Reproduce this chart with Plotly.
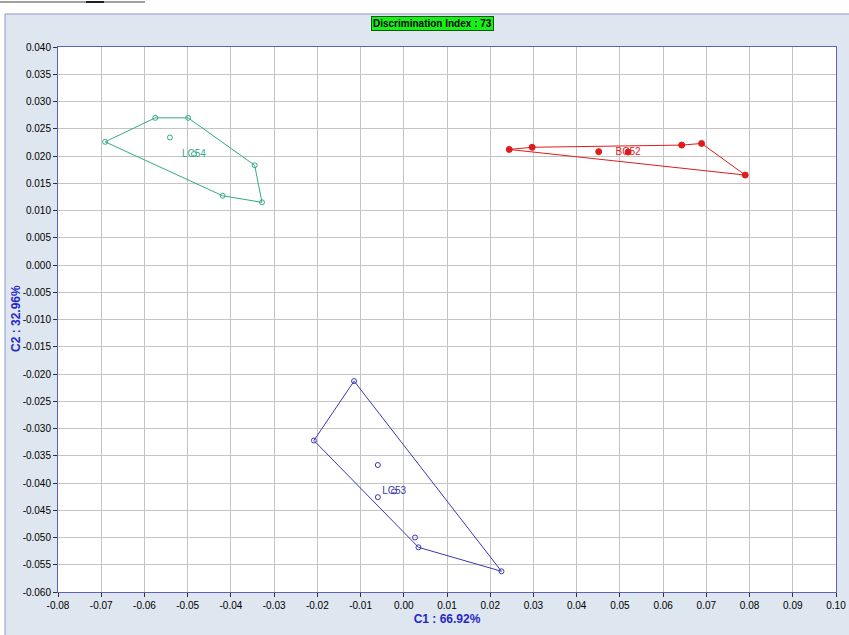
import plotly.graph_objects as go

# Canonical scores (C1, C2) for each group
groups = ["LC54", "BC52", "LC53"]

lc54_c1 = [-0.0691, -0.0575, -0.0499, -0.0345, -0.0328, -0.0419, -0.0541]
lc54_c2 = [0.0226, 0.0270, 0.0270, 0.0183, 0.0115, 0.0127, 0.0234]
lc54_outline = [0, 1, 2, 3, 4, 5, 0]

bc52_c1 = [0.0244, 0.0297, 0.0451, 0.0643, 0.0689, 0.0790]
bc52_c2 = [0.0212, 0.0216, 0.0208, 0.0220, 0.0223, 0.0165]
bc52_outline = [0, 1, 3, 4, 5, 0]

lc53_c1 = [-0.0115, -0.0208, -0.0060, -0.0060, 0.0026, 0.0034, 0.0226]
lc53_c2 = [-0.0213, -0.0322, -0.0367, -0.0426, -0.0500, -0.0518, -0.0562]
lc53_outline = [0, 6, 5, 1, 0]

x_ticks = [-0.08, -0.07, -0.06, -0.05, -0.04, -0.03, -0.02, -0.01, 0.00,
           0.01, 0.02, 0.03, 0.04, 0.05, 0.06, 0.07, 0.08, 0.09, 0.10]
y_ticks = [0.040, 0.035, 0.030, 0.025, 0.020, 0.015, 0.010, 0.005, 0.000,
           -0.005, -0.010, -0.015, -0.020, -0.025, -0.030, -0.035, -0.040,
           -0.045, -0.050, -0.055, -0.060]

title_text = "Discrimination Index : 73"
x_title = "C1 : 66.92%"
y_title = "C2 : 32.96%"

series = [
    (groups[0], lc54_c1, lc54_c2, lc54_outline, "#33a98b", "circle-open", 5),
    (groups[1], bc52_c1, bc52_c2, bc52_outline, "#e01b1b", "circle", 6),
    (groups[2], lc53_c1, lc53_c2, lc53_outline, "#3838b0", "circle-open", 5),
]

NARROW = "Liberation Sans Narrow, Arial Narrow, Liberation Sans, Arial, sans-serif"

fig = go.Figure()
for name, xs, ys, outline, color, symbol, msize in series:
    # group boundary polygon
    fig.add_trace(go.Scatter(
        x=[xs[i] for i in outline], y=[ys[i] for i in outline],
        mode="lines", line=dict(color=color, width=1),
        hoverinfo="skip", showlegend=False))
    # individual observations
    fig.add_trace(go.Scatter(
        x=xs, y=ys, mode="markers",
        marker=dict(symbol=symbol, size=msize, color=color,
                    line=dict(color=color, width=1)),
        name=name, showlegend=False))
    # group centroid with its label
    cx = sum(xs) / len(xs)
    cy = sum(ys) / len(ys)
    fig.add_trace(go.Scatter(
        x=[cx], y=[cy], mode="markers+text", text=[name],
        textposition="middle center",
        textfont=dict(family="Liberation Sans, Arial, sans-serif", size=10, color=color),
        marker=dict(symbol=symbol, size=msize, color=color,
                    line=dict(color=color, width=1)),
        showlegend=False))

# page frame: white strip above and left of the light panel
frame_x0 = (5 - 58) / 778
frame_y1 = (592 - 14) / 545
fig.add_shape(type="rect", xref="paper", yref="paper",
              x0=-0.2, x1=1.2, y0=frame_y1, y1=1.2,
              fillcolor="white", line=dict(width=0), layer="below")
fig.add_shape(type="rect", xref="paper", yref="paper",
              x0=-0.2, x1=frame_x0, y0=-0.2, y1=1.2,
              fillcolor="white", line=dict(width=0), layer="below")
fig.add_shape(type="line", xref="paper", yref="paper",
              x0=frame_x0, x1=1.2, y0=frame_y1, y1=frame_y1,
              line=dict(color="#8f96c8", width=1))
fig.add_shape(type="line", xref="paper", yref="paper",
              x0=frame_x0, x1=frame_x0, y0=-0.2, y1=frame_y1,
              line=dict(color="#8f96c8", width=1))
# toolbar rule along the top edge
top_y = (592 - 2) / 545
fig.add_shape(type="line", xref="paper", yref="paper",
              x0=(0 - 58) / 778, x1=(145 - 58) / 778, y0=top_y, y1=top_y,
              line=dict(color="#a0a0a0", width=2))
fig.add_shape(type="line", xref="paper", yref="paper",
              x0=(86 - 58) / 778, x1=(104 - 58) / 778, y0=top_y, y1=top_y,
              line=dict(color="#202020", width=2))

fig.add_annotation(
    text="<b>" + title_text + "</b>", xref="paper", yref="paper",
    x=(432 - 58) / 778, y=(592 - 24) / 545, showarrow=False,
    xanchor="center", yanchor="middle",
    font=dict(family=NARROW, size=10, color="black"),
    bgcolor="#19f019", bordercolor="#0a5a0a", borderwidth=1, borderpad=1)

# vertical axis caption
fig.add_annotation(
    text="<b>" + y_title + "</b>", xref="paper", yref="paper",
    x=(16 - 58) / 778, y=(592 - 319) / 545, showarrow=False,
    xanchor="center", yanchor="middle", textangle=-90,
    font=dict(family=NARROW, size=12, color="#2828c8"))

axis_common = dict(
    showgrid=True, gridcolor="#c4c4c4", gridwidth=1, automargin=False,
    zeroline=False, showline=True, linecolor="#6060b8", linewidth=1,
    mirror=True, ticks="outside", ticklen=4, tickcolor="#303030",
    tickfont=dict(family=NARROW, size=10, color="black"),
)

fig.update_xaxes(
    range=[-0.08, 0.10], tickvals=x_ticks,
    ticktext=[f"{v:.2f}".replace("-0.00", "0.00") for v in x_ticks],
    title=dict(text="<b>" + x_title + "</b>", standoff=4,
               font=dict(family=NARROW, size=12, color="#2828c8")),
    **axis_common)
fig.update_yaxes(
    range=[-0.060, 0.040], tickvals=y_ticks,
    ticktext=[f"{v:.3f}".replace("-0.000", "0.000") for v in y_ticks],
    **axis_common)

fig.update_layout(
    width=849, height=635,
    margin=dict(l=58, r=13, t=47, b=43),
    paper_bgcolor="#dee6ef", plot_bgcolor="white",
    showlegend=False,
)

fig.write_html("out.html")
